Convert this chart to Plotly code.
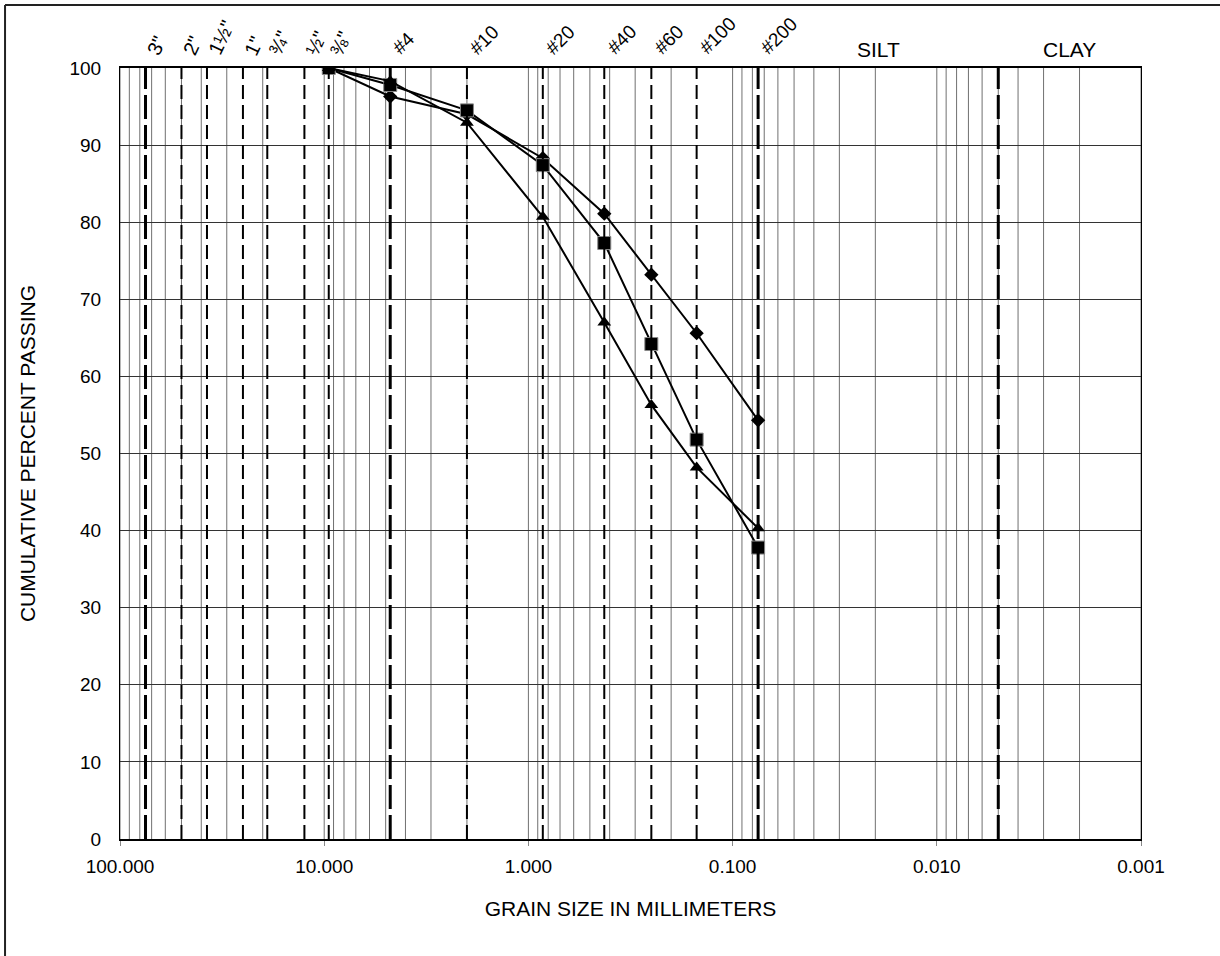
import math
import plotly.graph_objects as go

# ---- data ----
sieve_sizes_mm = [9.5, 4.75, 2.0, 0.85, 0.425, 0.25, 0.15, 0.075]
series_square = [100.0, 97.8, 94.5, 87.4, 77.3, 64.2, 51.8, 37.8]
series_diamond = [100.0, 96.3, 94.0, 88.3, 81.1, 73.2, 65.6, 54.3]
series_triangle = [100.0, 98.3, 92.9, 80.7, 67.0, 56.3, 48.2, 40.3]

x_tick_vals = [100, 10, 1, 0.1, 0.01, 0.001]
x_tick_text = ["100.000", "10.000", "1.000", "0.100", "0.010", "0.001"]
y_tick_vals = [0, 10, 20, 30, 40, 50, 60, 70, 80, 90, 100]

inch_sizes = [75, 50, 37.5, 25, 19, 12.5, 9.5]
inch_labels = ['3"', '2"', '1½"', '1"', '¾"', '½"', '⅜"']
inch_widths = [3, 2, 2, 2, 2, 2, 2]
sieve_line_sizes = [4.75, 2.0, 0.85, 0.425, 0.25, 0.15, 0.075]
sieve_labels = ["#4", "#10", "#20", "#40", "#60", "#100", "#200"]
sieve_widths = [3, 2, 2, 2, 2, 2, 3]
clay_limit = 0.005
zone_labels = ["SILT", "CLAY"]
zone_centers = [math.sqrt(0.075 * 0.005), math.sqrt(0.005 * 0.001)]

FONT = "Liberation Sans, Arial, sans-serif"

fig = go.Figure()

shapes = []
# log grid lines (decades and 2..9 within each decade)
for dec in [100, 10, 1, 0.1, 0.01]:
    for m in range(2, 10):
        v = dec / 10 * m
        shapes.append(dict(type="line", xref="x", yref="paper", x0=v, x1=v, y0=0, y1=1,
                           line=dict(color="#707070", width=1), layer="below"))
for d in x_tick_vals:
    shapes.append(dict(type="line", xref="x", yref="paper", x0=d, x1=d, y0=0, y1=1,
                       line=dict(color="#707070", width=1), layer="below"))

def dash_for(w):
    return "24px,6px" if w >= 3 else "14px,6px"

for s, w in zip(inch_sizes, inch_widths):
    shapes.append(dict(type="line", xref="x", yref="y", x0=s, x1=s, y0=0, y1=100,
                       line=dict(color="black", width=w, dash=dash_for(w))))
for s, w in zip(sieve_line_sizes, sieve_widths):
    shapes.append(dict(type="line", xref="x", yref="y", x0=s, x1=s, y0=0, y1=100,
                       line=dict(color="black", width=w, dash=dash_for(w))))
shapes.append(dict(type="line", xref="x", yref="y", x0=clay_limit, x1=clay_limit,
                   y0=0, y1=100, line=dict(color="black", width=3, dash=dash_for(3))))

# outer page border (top and left)
shapes.append(dict(type="line", xref="paper", yref="paper", x0=-0.1126, x1=1.1, y0=1.0817, y1=1.0817,
                   line=dict(color="#222", width=2)))
shapes.append(dict(type="line", xref="paper", yref="paper", x0=-0.1126, x1=-0.1126, y0=-0.2, y1=1.0817,
                   line=dict(color="#222", width=2)))

fig.add_trace(go.Scatter(x=sieve_sizes_mm, y=series_diamond, mode="lines+markers",
                         line=dict(color="black", width=2),
                         marker=dict(symbol="diamond", size=11, color="black"), showlegend=False))
fig.add_trace(go.Scatter(x=sieve_sizes_mm, y=series_square, mode="lines+markers",
                         line=dict(color="black", width=2),
                         marker=dict(symbol="square", size=13, color="black", line=dict(color="#888", width=1)),
                         showlegend=False))
fig.add_trace(go.Scatter(x=sieve_sizes_mm, y=series_triangle, mode="lines+markers",
                         line=dict(color="black", width=2),
                         marker=dict(symbol="triangle-up", size=12, color="black"), showlegend=False))

annotations = []
for s, lab in zip(inch_sizes, inch_labels):
    annotations.append(dict(x=math.log10(s), y=1, xref="x", yref="paper", text=lab, showarrow=False,
                            textangle=-65, xanchor="left", yanchor="bottom", xshift=-6, yshift=7,
                            font=dict(family=FONT, size=20, color="black")))
for s, lab in zip(sieve_line_sizes, sieve_labels):
    annotations.append(dict(x=math.log10(s), y=1, xref="x", yref="paper", text=lab, showarrow=False,
                            textangle=-45, xanchor="left", yanchor="bottom", xshift=-4, yshift=7,
                            font=dict(family=FONT, size=19, color="black")))
for c, lab in zip(zone_centers, zone_labels):
    annotations.append(dict(x=math.log10(c), y=1, xref="x", yref="paper", text=lab, showarrow=False,
                            xanchor="center", yanchor="bottom", yshift=5,
                            font=dict(family=FONT, size=21, color="black")))

fig.update_layout(
    width=1220, height=956,
    margin=dict(l=120, r=79, t=68, b=117),
    paper_bgcolor="white", plot_bgcolor="white",
    font=dict(family=FONT, size=19, color="black"),
    shapes=shapes, annotations=annotations,
    xaxis=dict(type="log", range=[2, -3], tickvals=x_tick_vals, ticktext=x_tick_text,
               showgrid=False, zeroline=False, showline=True, linecolor="black", linewidth=2,
               mirror=True, ticks="outside", ticklen=5, tickcolor="#888", ticklabelstandoff=4,
               title=dict(text="GRAIN SIZE IN MILLIMETERS", standoff=26,
                          font=dict(family=FONT, size=21)),
               tickfont=dict(family=FONT, size=19)),
    yaxis=dict(range=[0, 100], tickvals=y_tick_vals, showgrid=True, gridcolor="#333", gridwidth=1,
               zeroline=False, showline=True, linecolor="black", linewidth=1, mirror=True,
               ticks="", ticklabelstandoff=14,
               title=dict(text="CUMULATIVE PERCENT PASSING", standoff=28,
                          font=dict(family=FONT, size=21)),
               tickfont=dict(family=FONT, size=19)),
)

fig.write_html("out.html")
